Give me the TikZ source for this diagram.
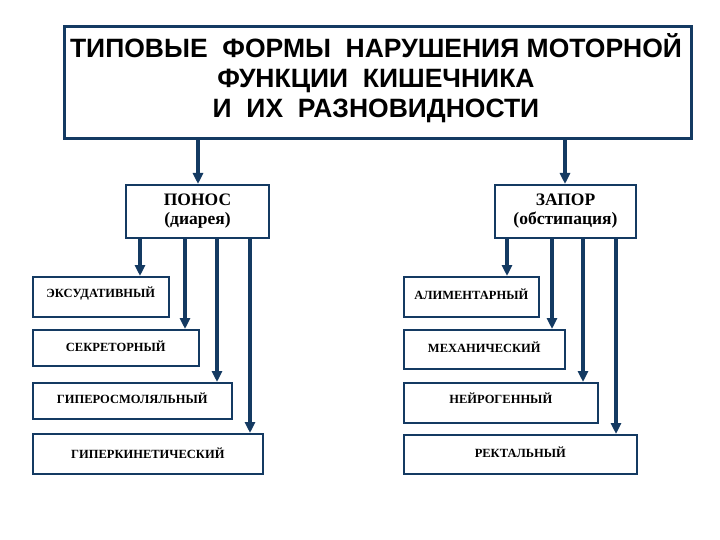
\documentclass[tikz,border=0pt]{standalone}
\usepackage{fontspec}
\setmainfont{Liberation Serif}
\newfontfamily\titlefont{Liberation Sans}
\usetikzlibrary{arrows.meta}
\definecolor{navy}{RGB}{20,58,98}
\tikzset{
  x=1pt, y=-1pt,
  framebox/.style={draw=navy, line width=1.6pt, fill=white, inner sep=0pt, anchor=north west},
  headbox/.style={draw=navy, line width=2pt, fill=white, inner sep=0pt, anchor=north west, align=center},
  titlebox/.style={draw=navy, line width=3pt, fill=white, inner sep=0pt, anchor=north west},
  itemtext/.style={font=\fontsize{12.5}{14}\selectfont\bfseries, inner sep=0pt},
  arr/.style={draw=navy, line width=3.6pt, -{Triangle[length=11pt,width=10pt]}},
}
\begin{document}
\begin{tikzpicture}
\useasboundingbox[fill=white] (0,0) rectangle (720,540);
% title
\node[titlebox, minimum width=627pt, minimum height=112pt] (title) at (63,25) {};
\node[font=\titlefont\fontsize{26.5}{30}\selectfont\bfseries, align=center, inner sep=0pt] (titletext) at (376,78)
  {ТИПОВЫЕ\ \ ФОРМЫ\ \ НАРУШЕНИЯ МОТОРНОЙ\\ФУНКЦИИ\ \ КИШЕЧНИКА\\И\ \ ИХ\ \ РАЗНОВИДНОСТИ};
% heads
\node[headbox, minimum width=143pt, minimum height=53pt, font=\fontsize{17.5}{19}\selectfont\bfseries] (ponos) at (125,184)
  {ПОНОС\\(диарея)};
\node[headbox, minimum width=141pt, minimum height=53pt, font=\fontsize{17.5}{19}\selectfont\bfseries] (zapor) at (494,184)
  {ЗАПОР\\(обстипация)};
% left items
\node[framebox, minimum width=136pt, minimum height=40pt] (ex) at (32,276) {};
\node[framebox, minimum width=166pt, minimum height=36pt] (sec) at (32,329) {};
\node[framebox, minimum width=199pt, minimum height=36pt] (osm) at (32,382) {};
\node[framebox, minimum width=230pt, minimum height=40pt] (kin) at (32,433) {};
\node[itemtext] (ext) at ([yshift=3pt]ex.center) {ЭКСУДАТИВНЫЙ};
\node[itemtext] (sect) at ([yshift=2pt]sec.center) {СЕКРЕТОРНЫЙ};
\node[itemtext] (osmt) at ([yshift=3pt]osm.center) {ГИПЕРОСМОЛЯЛЬНЫЙ};
\node[itemtext] (kint) at ([yshift=1pt]kin.center) {ГИПЕРКИНЕТИЧЕСКИЙ};
% right items
\node[framebox, minimum width=135pt, minimum height=40pt] (al) at (403,276) {};
\node[framebox, minimum width=161pt, minimum height=39pt] (mech) at (403,329) {};
\node[framebox, minimum width=194pt, minimum height=40pt] (neur) at (403,382) {};
\node[framebox, minimum width=233pt, minimum height=39pt] (rect) at (403,434) {};
\node[itemtext] (alt) at ([yshift=3pt]al.center) {АЛИМЕНТАРНЫЙ};
\node[itemtext] (mecht) at ([yshift=2.5pt]mech.center) {МЕХАНИЧЕСКИЙ};
\node[itemtext] (neurt) at ([yshift=5pt]neur.center) {НЕЙРОГЕННЫЙ};
\node[itemtext] (rectt) at ([yshift=2.5pt]rect.center) {РЕКТАЛЬНЫЙ};
% arrow columns
\coordinate (tl) at (198,0);
\coordinate (tr) at (565,0);
\coordinate (l1) at (140,0);
\coordinate (l2) at (185,0);
\coordinate (l3) at (217,0);
\coordinate (l4) at (250,0);
\coordinate (r1) at (507,0);
\coordinate (r2) at (552,0);
\coordinate (r3) at (583,0);
\coordinate (r4) at (616,0);
% arrows
\draw[arr] (title.south -| tl) -- (ponos.north -| tl);
\draw[arr] (title.south -| tr) -- (zapor.north -| tr);
\draw[arr] (ponos.south -| l1) -- (ex.north -| l1);
\draw[arr] (ponos.south -| l2) -- (sec.north -| l2);
\draw[arr] (ponos.south -| l3) -- (osm.north -| l3);
\draw[arr] (ponos.south -| l4) -- (kin.north -| l4);
\draw[arr] (zapor.south -| r1) -- (al.north -| r1);
\draw[arr] (zapor.south -| r2) -- (mech.north -| r2);
\draw[arr] (zapor.south -| r3) -- (neur.north -| r3);
\draw[arr] (zapor.south -| r4) -- (rect.north -| r4);
\end{tikzpicture}
\end{document}
